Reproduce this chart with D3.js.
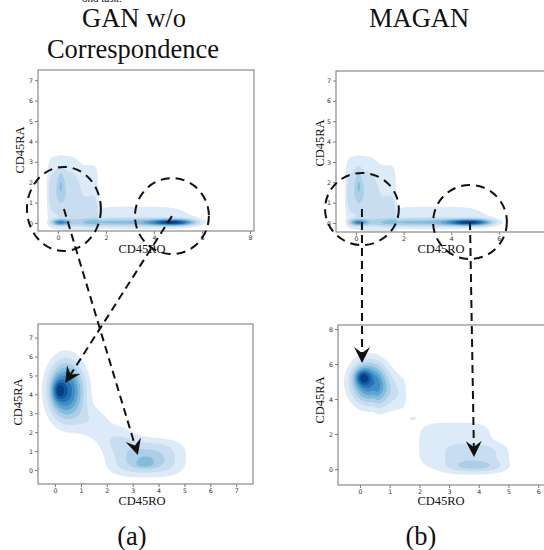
<!DOCTYPE html>
<html><head><meta charset="utf-8">
<script src="https://cdn.jsdelivr.net/npm/d3@7"></script>
<style>body{margin:0;background:#fff}svg{display:block}</style>
</head><body>
<svg id="c" width="544" height="550"></svg>
<script>
// ---------- text ----------
const titleLeft = ["GAN w/o", "Correspondence"];
const titleRight = ["MAGAN"];
const panelLetters = ["(a)", "(b)"];
const topFragment = "ond task.";
const xLabel = "CD45RO";
const yLabel = "CD45RA";

// ---------- ticks ----------
const ticksTopLeftX = [0, 2, 4, 6, 8];
const ticksTopRightX = [0, 2, 4, 6];
const ticksTopY = [0, 1, 2, 3, 4, 5, 6, 7];
const ticksGanX = [0, 1, 2, 3, 4, 5, 6, 7];
const ticksGanY = [0, 1, 2, 3, 4, 5, 6, 7];
const ticksMaganX = [0, 1, 2, 3, 4, 5, 6];
const ticksMaganY = [0, 2, 4, 6, 8];

// ---------- axis domains ----------
const domTopLeftX = [-0.83, 8.17], domTopLeftY = [-0.39, 7.5];
const domTopRightX = [-0.84, 8.16], domTopRightY = [-0.44, 7.47];
const domGanX = [-0.66, 7.65], domGanY = [-0.74, 7.72];
const domMaganX = [-0.74, 6.6], domMaganY = [-0.91, 8.23];

// ---------- density components ----------
// [centre x, centre y, spread x, spread y, weight, shape exponent x, shape exponent y]
const sourceDensity = [
  [4.75, 0.03, 0.6, 0.1, 1.0, 2, 2],
  [2.6, 0.03, 1.8, 0.14, 0.42, 4, 2],
  [0.1, 0.03, 0.25, 0.1, 0.75, 2, 2],
  [3.3, 0.3, 2.3, 0.6, 0.2, 4, 2],
  [0.625, 1.5, 1.045, 1.25, 0.25, 20, 2],
  [0.2, 1.6, 0.55, 1.15, 0.15, 4, 2],
  [0.12, 1.9, 0.1, 0.55, 0.2, 2, 2],
  [5.3, 0.05, 0.45, 0.15, 0.2, 2, 2]
];
const ganDensity = [
  [0.4, 4.2, 0.45, 1.05, 0.7, 2, 2],
  [0.13, 4.2, 0.16, 0.38, 0.3, 2, 2],
  [1.0, 4.0, 0.35, 1.1, 0.06, 2, 2],
  [1.45, 2.6, 0.5, 0.6, 0.13, 2, 2],
  [2.35, 1.8, 0.6, 0.5, 0.13, 2, 2],
  [3.5, 0.65, 1.2, 0.8, 0.27, 3, 3],
  [3.5, 0.5, 0.45, 0.3, 0.12, 2, 2],
  [3.45, 0.28, 0.22, 0.09, 0.1, 2, 2]
];
const maganDensity = [
  [0.3, 4.95, 0.42, 0.85, 0.65, 2, 2],
  [0.08, 5.25, 0.17, 0.3, 0.35, 2, 2],
  [1.05, 4.3, 0.5, 0.8, 0.15, 8, 2],
  [1.78, 2.9, 0.08, 0.07, 0.16, 2, 2],
  [3.2, 1.35, 1.3, 1.4, 0.13, 4, 4],
  [4.0, 0.6, 1.0, 0.75, 0.12, 4, 4],
  [3.9, 0.17, 0.55, 0.2, 0.12, 2, 2]
];
const levelFractions = [0.1, 0.2, 0.3, 0.4, 0.5, 0.6, 0.7, 0.8, 0.9];

// ---------- annotations (data coordinates) ----------
// ellipses in the top panels: [cx, cy, rx, ry]
const ganCircles = [[0.25, 0.69, 1.54, 2.06], [4.75, 0.34, 1.54, 1.86]];
const maganCircles = [[0.25, 0.69, 1.55, 1.77], [4.79, 0.05, 1.55, 1.82]];
// arrows: from ellipse centre (top panel) to target (bottom panel)
const ganArrowEnds = [[3.2, 0.79], [0.39, 4.6]];
const maganArrowEnds = [[0.07, 6.06], [3.84, 0.69]];

// ---------- layout ----------
const svg = d3.select("#c");
const serif = "'Liberation Serif','Times New Roman',serif";
const sans = "'DejaVu Sans',sans-serif";

function makePanel(frame, domX, domY) {
  const [l, t, r, b] = frame;
  return {
    frame,
    x: d3.scaleLinear().domain(domX).range([l, r]),
    y: d3.scaleLinear().domain(domY).range([b, t])
  };
}
const pTL = makePanel([38, 70, 254, 231], domTopLeftX, domTopLeftY);
const pTR = makePanel([336, 71, 550.2, 232], domTopRightX, domTopRightY);
const pBL = makePanel([38, 324, 253, 484], domGanX, domGanY);
const pBR = makePanel([338, 325, 556, 485], domMaganX, domMaganY);

function density(comps, x, y) {
  let s = 0;
  for (const c of comps) {
    const dx = Math.abs((x - c[0]) / c[2]);
    const dy = Math.abs((y - c[1]) / c[3]);
    s += c[4] * Math.exp(-0.5 * (Math.pow(dx, c[5]) + Math.pow(dy, c[6])));
  }
  return s;
}

function drawDensity(p, comps, id) {
  const [l, t, r, b] = p.frame;
  const w = Math.ceil(r - l), h = Math.ceil(b - t);
  const vals = new Float64Array(w * h);
  let mx = 0;
  for (let j = 0; j < h; j++) {
    const yv = p.y.invert(t + j + 0.5);
    for (let i = 0; i < w; i++) {
      const v = density(comps, p.x.invert(l + i + 0.5), yv);
      vals[j * w + i] = v;
      if (v > mx) mx = v;
    }
  }
  const th = levelFractions.map(f => f * mx);
  const cs = d3.contours().size([w, h]).thresholds(th)(vals);
  const color = i => d3.interpolateBlues(0.13 + 0.82 * i / (th.length - 1));
  svg.append("clipPath").attr("id", id).append("rect")
    .attr("x", l).attr("y", t).attr("width", r - l).attr("height", b - t);
  svg.append("g").attr("clip-path", `url(#${id})`)
    .append("g").attr("transform", `translate(${l},${t})`)
    .selectAll("path").data(cs).join("path")
    .attr("d", d3.geoPath())
    .attr("fill", (d, i) => color(i))
    .attr("stroke", "none");
}

function drawAxes(p, tx, ty) {
  const [l, t, r, b] = p.frame;
  const gx = svg.append("g").attr("transform", `translate(0,${b})`)
    .call(d3.axisBottom(p.x).tickValues(tx).tickSize(3).tickPadding(1.5).tickFormat(d3.format("d")));
  const gy = svg.append("g").attr("transform", `translate(${l},0)`)
    .call(d3.axisLeft(p.y).tickValues(ty).tickSize(3).tickPadding(2).tickFormat(d3.format("d")));
  [gx, gy].forEach(g => {
    g.select(".domain").remove();
    g.selectAll(".tick line").attr("stroke", "#555").attr("stroke-width", 0.8);
    g.selectAll(".tick text").attr("fill", "#333").style("font-family", sans).style("font-size", "6.3px");
  });
  svg.append("rect").attr("x", l).attr("y", t).attr("width", r - l).attr("height", b - t)
    .attr("fill", "none").attr("stroke", "#8a8a8a").attr("stroke-width", 1.2);
}

function axisLabels(xLab, yLab) {
  svg.append("text").attr("x", xLab[0]).attr("y", xLab[1]).attr("text-anchor", "middle")
    .style("font-family", serif).style("font-size", "12.5px").attr("fill", "#111").text(xLabel);
  svg.append("text").attr("transform", `translate(${yLab[0]},${yLab[1]}) rotate(-90)`)
    .attr("text-anchor", "middle").style("font-family", serif).style("font-size", "12.5px")
    .attr("fill", "#111").text(yLabel);
}

drawDensity(pTL, sourceDensity, "c1");
drawDensity(pTR, sourceDensity, "c2");
drawDensity(pBL, ganDensity, "c3");
drawDensity(pBR, maganDensity, "c4");
drawAxes(pTL, ticksTopLeftX, ticksTopY);
drawAxes(pTR, ticksTopRightX, ticksTopY);
drawAxes(pBL, ticksGanX, ticksGanY);
drawAxes(pBR, ticksMaganX, ticksMaganY);
axisLabels([142, 253], [24, 150]);
axisLabels([441, 253], [324, 143]);
axisLabels([142, 505], [22, 402]);
axisLabels([441, 505], [324, 400]);

// titles
const tStyle = s => s.style("font-family", serif).style("font-size", "26.5px").attr("fill", "#111").attr("text-anchor", "middle");
svg.append("text").attr("x", 134).attr("y", 27).call(tStyle).text(titleLeft[0]);
svg.append("text").attr("x", 133).attr("y", 58).call(tStyle).text(titleLeft[1]);
svg.append("text").attr("x", 419).attr("y", 27).call(tStyle).text(titleRight[0]);
svg.append("text").attr("x", 132).attr("y", 545).call(tStyle).text(panelLetters[0]);
svg.append("text").attr("x", 421).attr("y", 545).call(tStyle).text(panelLetters[1]);
svg.append("text").attr("x", 82).attr("y", 1.5).style("font-family", serif).style("font-size", "11px")
  .attr("fill", "#111").text(topFragment);

// annotations
const dash = "8,5";
function ellipses(p, list) {
  svg.append("g").selectAll("ellipse").data(list).join("ellipse")
    .attr("cx", d => p.x(d[0])).attr("cy", d => p.y(d[1]))
    .attr("rx", d => Math.abs(p.x(d[0] + d[2]) - p.x(d[0])))
    .attr("ry", d => Math.abs(p.y(d[1] + d[3]) - p.y(d[1])))
    .attr("fill", "none").attr("stroke", "#111").attr("stroke-width", 2)
    .attr("stroke-dasharray", "9,6");
}
function arrow(pFrom, from, pTo, to) {
  const x0 = pFrom.x(from[0]), y0 = pFrom.y(from[1]);
  const x1 = pTo.x(to[0]), y1 = pTo.y(to[1]);
  const ang = Math.atan2(y1 - y0, x1 - x0);
  const len = Math.hypot(x1 - x0, y1 - y0);
  const xe = x0 + Math.cos(ang) * (len - 10), ye = y0 + Math.sin(ang) * (len - 10);
  svg.append("line").attr("x1", x0).attr("y1", y0).attr("x2", xe).attr("y2", ye)
    .attr("stroke", "#111").attr("stroke-width", 2).attr("stroke-dasharray", dash);
  svg.append("path").attr("d", "M0,0L-16,-8L-10,0L-16,8Z")
    .attr("transform", `translate(${x1},${y1}) rotate(${ang * 180 / Math.PI})`)
    .attr("fill", "#111");
}
ellipses(pTL, ganCircles);
ellipses(pTR, maganCircles);
arrow(pTL, ganCircles[0], pBL, ganArrowEnds[0]);
arrow(pTL, ganCircles[1], pBL, ganArrowEnds[1]);
arrow(pTR, maganCircles[0], pBR, maganArrowEnds[0]);
arrow(pTR, maganCircles[1], pBR, maganArrowEnds[1]);
</script>
</body></html>
